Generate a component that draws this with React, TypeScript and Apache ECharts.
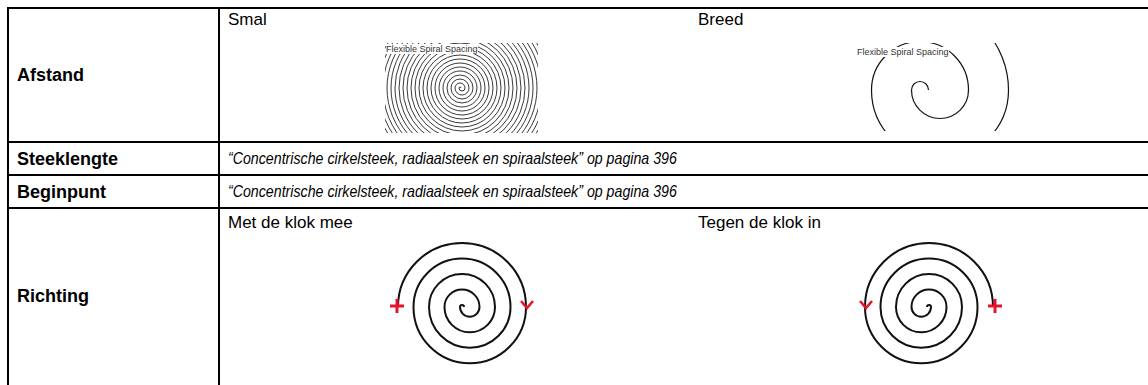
import React, { useEffect, useRef } from "react";
import * as echarts from "echarts";

// ---- content ----
const rowLabels = ["Afstand", "Steeklengte", "Beginpunt", "Richting"];
const afstandOptions = ["Smal", "Breed"];
const richtingOptions = ["Met de klok mee", "Tegen de klok in"];
const crossReference = "\u201CConcentrische cirkelsteek, radiaalsteek en spiraalsteek\u201D op pagina 396";
const previewTitle = "Flexible Spiral Spacing";

// ---- layout ----
const W = 1148;
const H = 385;
const LEFT_X = 8;
const DIV_X = 219;
const TOP_Y = 8;
const ROW_LINES = [142, 175, 208];
const LABEL_X = 17;
const CELL_X = [228, 698];
const LABEL_Y = [75, 158.5, 191.5, 296];
const OPTION_Y = [19, 222];

const BOLD = 'bold 18px "Liberation Sans", Arial, sans-serif';
const REG = '17px "Liberation Sans", Arial, sans-serif';
const ITAL = 'italic 17px "Liberation Sans", Arial, sans-serif';
const ITAL_SCALE = 0.835;
const RED = "#e3142d";
const INK = "#111";

function semiSpiral(
  topCx: number,
  botCx: number,
  cy: number,
  topStart: number,
  botStart: number,
  d: number,
  nTop: number,
  nBot: number,
  lw: number,
  color: string
): any[] {
  const out: any[] = [];
  for (let k = 0; k < nTop; k++) {
    out.push({
      type: "arc",
      silent: true,
      shape: { cx: topCx, cy, r: topStart + k * d, startAngle: Math.PI, endAngle: Math.PI * 2, clockwise: true },
      style: { stroke: color, lineWidth: lw, fill: "none" },
    });
  }
  for (let k = 0; k < nBot; k++) {
    out.push({
      type: "arc",
      silent: true,
      shape: { cx: botCx, cy, r: botStart + k * d, startAngle: 0, endAngle: Math.PI, clockwise: true },
      style: { stroke: color, lineWidth: lw, fill: "none" },
    });
  }
  return out;
}

function rect(x: number, y: number, w: number, h: number, fill = "#fff") {
  return { type: "rect", silent: true, shape: { x, y, width: w, height: h }, style: { fill } };
}

function line(x1: number, y1: number, x2: number, y2: number, lw = 2, stroke = "#000") {
  return { type: "line", silent: true, shape: { x1, y1, x2, y2 }, style: { stroke, lineWidth: lw } };
}

function text(t: string, x: number, y: number, font: string, fill = "#000", scaleX = 1) {
  return {
    type: "text",
    silent: true,
    x,
    y,
    scaleX,
    style: { text: t, font, fill, textAlign: "left", textVerticalAlign: "middle", align: "left", verticalAlign: "middle" },
  };
}

function plus(cx: number, cy: number, s = 7) {
  return [line(cx - s, cy, cx + s, cy, 3, RED), line(cx, cy - s, cx, cy + s, 3, RED)];
}

function chevron(cx: number, cy: number) {
  return {
    type: "polyline",
    silent: true,
    shape: { points: [[cx - 6, cy - 4], [cx, cy + 3], [cx + 6, cy - 4]] },
    style: { stroke: RED, lineWidth: 2.5, fill: "none" },
  };
}

// clip boxes of the two preview pictures
const SMAL_BOX = { x0: 385, x1: 538, y0: 43, y1: 133 };
const BREED_BOX = { x0: 850, x1: 1012, y0: 43, y1: 131 };

function masks(b: { x0: number; x1: number; y0: number; y1: number }) {
  const pad = 110;
  return [
    rect(b.x0 - pad, b.y0 - pad, b.x1 - b.x0 + 2 * pad, pad),
    rect(b.x0 - pad, b.y1, b.x1 - b.x0 + 2 * pad, pad),
    rect(b.x0 - pad, b.y0, pad, b.y1 - b.y0),
    rect(b.x1, b.y0, pad, b.y1 - b.y0),
  ];
}

export default function App() {
  const ref = useRef<HTMLDivElement>(null);
  useEffect(() => {
    if (!ref.current) return;
    const chart = echarts.init(ref.current, null, { renderer: "svg" });

    const elements: any[] = [];
    // spirals (preview pictures)
    elements.push(...semiSpiral(460, 462, 88, 1, 3, 4, 25, 25, 0.9, "#222"));
    elements.push(...semiSpiral(920, 940, 90, 8.5, 28.5, 40, 3, 2, 1.2, INK));
    elements.push(...masks(SMAL_BOX));
    elements.push(...masks(BREED_BOX));
    // preview titles
    elements.push(rect(386, 44, 92, 10));
    elements.push(text(previewTitle, 386, 49, '9px "Liberation Sans", Arial, sans-serif', "#333"));
    elements.push(rect(857, 47, 92, 10));
    elements.push(text(previewTitle, 857, 52, '9px "Liberation Sans", Arial, sans-serif', "#333"));

    // direction spirals
    elements.push(...semiSpiral(462, 469.75, 307, 2, 9.75, 15.5, 5, 4, 2, INK));
    elements.push(...semiSpiral(929, 921.25, 307, 2, 9.75, 15.5, 5, 4, 2, INK));
    elements.push(...plus(397, 306));
    elements.push(chevron(527, 305));
    elements.push(chevron(866, 305));
    elements.push(...plus(995, 306));

    // table lines
    elements.push(line(LEFT_X - 1, TOP_Y, W, TOP_Y));
    ROW_LINES.forEach((y) => elements.push(line(LEFT_X - 1, y, W, y)));
    elements.push(line(LEFT_X, TOP_Y - 1, LEFT_X, H));
    elements.push(line(DIV_X, TOP_Y - 1, DIV_X, H));

    // texts
    rowLabels.forEach((l, i) => elements.push(text(l, LABEL_X, LABEL_Y[i], BOLD)));
    afstandOptions.forEach((l, i) => elements.push(text(l, CELL_X[i], OPTION_Y[0], REG)));
    richtingOptions.forEach((l, i) => elements.push(text(l, CELL_X[i], OPTION_Y[1], REG)));
    elements.push(text(crossReference, CELL_X[0], LABEL_Y[1], ITAL, "#000", ITAL_SCALE));
    elements.push(text(crossReference, CELL_X[0], LABEL_Y[2], ITAL, "#000", ITAL_SCALE));

    chart.setOption({
      animation: false,
      backgroundColor: "#fff",
      graphic: { elements },
    });
    return () => chart.dispose();
  }, []);
  return <div ref={ref} style={{ position: "fixed", left: 0, top: 0, width: W, height: H }} />;
}
